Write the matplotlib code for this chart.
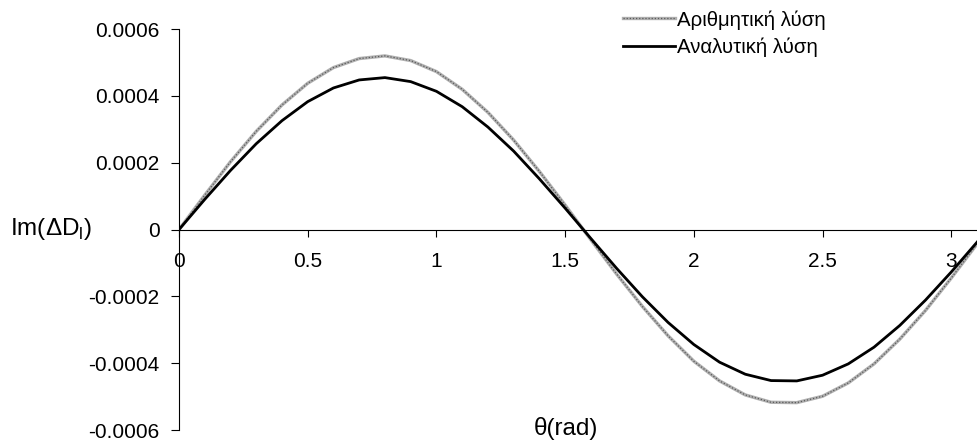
import matplotlib
matplotlib.use("Agg")
import matplotlib.pyplot as plt

plt.rcParams['font.family'] = ['Liberation Sans', 'DejaVu Sans']

# theta samples (rad) and the two solutions
theta = [0.0, 0.1, 0.2, 0.3, 0.4, 0.5, 0.6, 0.7, 0.8, 0.9, 1.0, 1.1, 1.2, 1.3,
         1.4, 1.5, 1.6, 1.7, 1.8, 1.9, 2.0, 2.1, 2.2, 2.3, 2.4, 2.5, 2.6, 2.7,
         2.8, 2.9, 3.0, 3.1, 3.1416]
numeric = [0.0, 0.000103, 0.000203, 0.000294, 0.000373, 0.000438, 0.000485,
           0.000512, 0.000520, 0.000506, 0.000473, 0.000420, 0.000351,
           0.000268, 0.000174, 0.0000734, -0.0000304, -0.000133, -0.000230,
           -0.000318, -0.000394, -0.000453, -0.000495, -0.000517, -0.000518,
           -0.000499, -0.000459, -0.000402, -0.000328, -0.000242, -0.000145,
           -0.0000432, 0.0]
analytic = [0.0, 0.0000904, 0.000177, 0.000257, 0.000326, 0.000383, 0.000424,
            0.000448, 0.000455, 0.000443, 0.000414, 0.000368, 0.000307,
            0.000235, 0.000152, 0.0000642, -0.0000266, -0.000116, -0.000201,
            -0.000278, -0.000344, -0.000397, -0.000433, -0.000452, -0.000453,
            -0.000436, -0.000402, -0.000352, -0.000287, -0.000211, -0.000127,
            -0.0000378, 0.0]

xticks = [0, 0.5, 1, 1.5, 2, 2.5, 3]
xtick_labels = ['0', '0.5', '1', '1.5', '2', '2.5', '3']
yticks = [-0.0006, -0.0004, -0.0002, 0, 0.0002, 0.0004, 0.0006]
ytick_labels = ['-0.0006', '-0.0004', '-0.0002', '0', '0.0002', '0.0004', '0.0006']

fig = plt.figure(figsize=(9.77, 4.40), dpi=100)
ax = fig.add_axes([0.1832, 0.0227, 0.8168, 0.911])

# numeric solution: grey line with a darker dotted texture on top
num_base, = ax.plot(theta, numeric, color='#b0b0b0', lw=2.4)
num_dots, = ax.plot(theta, numeric, color='#5a5a5a', lw=0.9, ls=(0, (1, 1.5)))
ana, = ax.plot(theta, analytic, color='black', lw=2.0)

ax.set_xlim(0, 3.1)
ax.set_ylim(-0.0006, 0.0006)

ax.spines['top'].set_visible(False)
ax.spines['right'].set_visible(False)
ax.spines['bottom'].set_position(('data', 0))

ax.set_xticks(xticks)
ax.set_xticklabels(xtick_labels)
ax.set_yticks(yticks)
ax.set_yticklabels(ytick_labels)
ax.tick_params(axis='x', direction='out', length=5, pad=11, labelsize=15)
ax.tick_params(axis='y', direction='out', length=6, pad=8, labelsize=15)

fig.text(0.010, 0.48, r'Im(ΔD$_\mathregular{l}$)', ha='left', va='center',
         fontsize=17.5)
fig.text(0.579, 0.027, 'θ(rad)', ha='center', va='center', fontsize=17.5)

fig.legend([(num_base, num_dots), ana], ['Αριθμητική λύση', 'Αναλυτική λύση'],
           loc='upper left', bbox_to_anchor=(0.6377, 0.977), frameon=False,
           fontsize=14.7, handlelength=2.55, handletextpad=0.1,
           labelspacing=0.37, borderaxespad=0, borderpad=0)

fig.savefig('out.png', dpi=100)
